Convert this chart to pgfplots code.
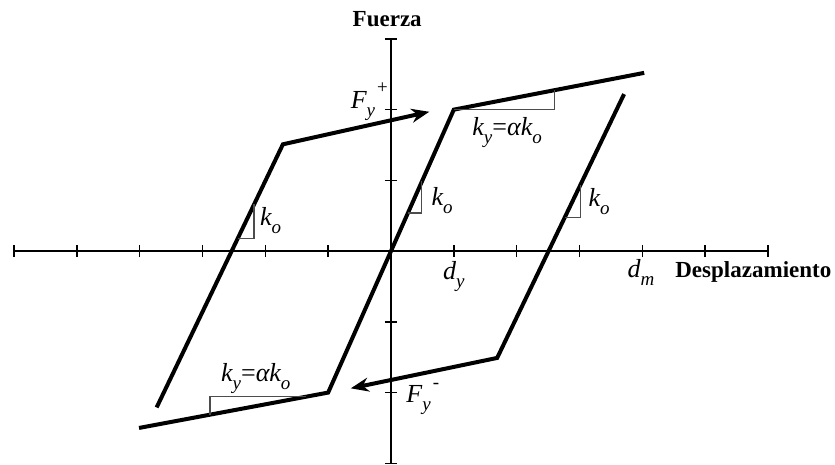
\documentclass[border=0pt]{standalone}
\usepackage{fontspec}
\setmainfont{Liberation Serif}
\usepackage{pgfplots}
\pgfplotsset{compat=1.18}
\usetikzlibrary{arrows.meta}

\newcommand{\lab}{\fontsize{13}{15}\selectfont\itshape}
\newcommand{\ttl}{\fontsize{11.5}{13}\selectfont\bfseries}
\newcommand{\sub}[1]{\raisebox{-0.3em}{\fontsize{9.5}{10}\selectfont\itshape #1}}
\newcommand{\sups}[1]{\raisebox{0.55em}{\fontsize{9.5}{10}\selectfont #1}}

\begin{document}
\begin{tikzpicture}
\begin{axis}[
    x=31.4pt, y=35.35pt,
    xmin=-6, xmax=6, ymin=-3, ymax=3,
    enlargelimits=false,
    axis lines=middle,
    axis line style={-, line width=0.75pt, black},
    xtick={-6,...,6}, ytick={-3,...,3},
    xticklabels={}, yticklabels={},
    major tick length=6pt,
    tick align=center,
    tick style={line width=0.75pt, black},
    clip=false,
]
    % hysteresis curve (yield lines + elastic branch through origin)
    \addplot[line width=2pt, black, line join=miter] coordinates {
        (-4.01,-2.50) (-1.00,-2.00) (1.00,2.00) (4.03,2.52)
    };
    % left unloading branch, reloading arrow
    \addplot[line width=2pt, black, -{Stealth[length=9pt,width=7pt]}] coordinates {
        (-3.73,-2.21) (-1.72,1.51) (0.61,1.97)
    };
    % right unloading branch, reloading arrow
    \addplot[line width=2pt, black, -{Stealth[length=9pt,width=7pt]}] coordinates {
        (3.71,2.22) (1.69,-1.51) (-0.64,-1.94)
    };

    % slope triangles
    \addplot[line width=0.6pt, black!70] coordinates {(-2.44,0.18) (-2.18,0.18) (-2.18,0.66)};
    \addplot[line width=0.6pt, black!70] coordinates {(0.27,0.54) (0.49,0.54) (0.49,0.99)};
    \addplot[line width=0.6pt, black!70] coordinates {(2.77,0.48) (3.01,0.48) (3.01,0.93)};
    \addplot[line width=0.6pt, black!70] coordinates {(1.00,2.00) (2.60,2.00) (2.60,2.275)};
    \addplot[line width=0.6pt, black!70] coordinates {(-2.88,-2.31) (-2.88,-2.06) (-1.36,-2.06)};

    % labels
    \node[anchor=base, font=\ttl] at (axis cs:-0.06,3.18) {Fuerza};
    \node[anchor=base west, font=\ttl, inner sep=0pt] at (axis cs:4.52,-0.38) {Desplazamiento};
    \node[anchor=base east, font=\lab, inner sep=1pt] at (axis cs:0.0,2.02)
        {F\rlap{\sub{y}}\hspace{0.35em}\sups{+}};
    \node[anchor=base west, font=\lab, inner sep=0pt] at (axis cs:0.24,-2.14)
        {F\rlap{\sub{y}}\hspace{0.4em}\sups{-}};
    \node[anchor=base, font=\lab, inner sep=0pt] at (axis cs:1.0,-0.40) {d\sub{y}};
    \node[anchor=base, font=\lab, inner sep=0pt] at (axis cs:3.98,-0.38) {d\sub{m}};
    \node[anchor=base west, font=\lab, inner sep=0pt] at (axis cs:1.29,1.63) {k\sub{y}\upshape=\itshape αk\sub{o}};
    \node[anchor=base west, font=\lab, inner sep=0pt] at (axis cs:-2.71,-1.85) {k\sub{y}\upshape=\itshape αk\sub{o}};
    \node[anchor=base west, font=\lab, inner sep=0pt] at (axis cs:-2.09,0.36) {k\sub{o}};
    \node[anchor=base west, font=\lab, inner sep=0pt] at (axis cs:0.64,0.64) {k\sub{o}};
    \node[anchor=base west, font=\lab, inner sep=0pt] at (axis cs:3.14,0.63) {k\sub{o}};

    \coordinate (bbl) at (axis cs:-6.223,-3.013);
    \coordinate (btr) at (axis cs:7.067,3.55);
\end{axis}
\pgfresetboundingbox
\path (bbl) rectangle (btr);
\end{tikzpicture}
\end{document}
